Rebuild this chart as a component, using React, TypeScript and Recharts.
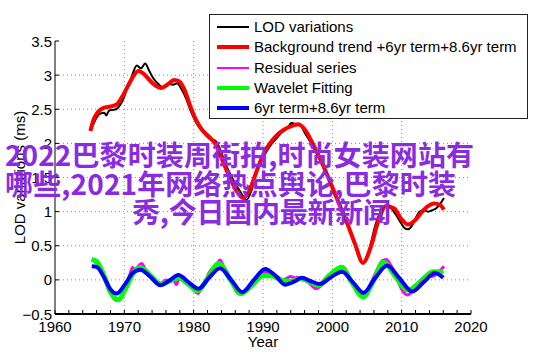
import React from "react";
import { LineChart, Line, XAxis, YAxis, ReferenceLine } from "recharts";

const W = 542;
const H = 356;
const PLOT = { left: 55, top: 41, right: 471, bottom: 314 };
const FONT = "'Liberation Sans', Arial, Helvetica, sans-serif";
const TICK_LEN = 4;

// year ticks: majors every 10, minors every 2
const xTicks = [
  1960, 1962, 1964, 1966, 1968, 1970, 1972, 1974, 1976, 1978, 1980, 1982, 1984, 1986, 1988, 1990,
  1992, 1994, 1996, 1998, 2000, 2002, 2004, 2006, 2008, 2010, 2012, 2014, 2016, 2018, 2020,
];
const xGrid = [1970, 1980, 1990, 2000, 2010];
const yTicks = [-0.5, 0, 0.5, 1, 1.5, 2, 2.5, 3, 3.5];
const yGrid = [0, 0.5, 1, 1.5, 2, 2.5, 3];

// [year, ms]
const lodVariations: [number, number][] = [
  [1965.2, 2.2], [1965.7, 2.32], [1966.0, 2.38], [1966.6, 2.44], [1967.1, 2.45], [1967.4, 2.41],
  [1967.8, 2.48], [1968.3, 2.49], [1968.8, 2.5], [1969.3, 2.55], [1969.9, 2.66], [1970.3, 2.78],
  [1970.8, 2.9], [1971.2, 3.02], [1971.8, 3.14], [1972.4, 3.1], [1973.0, 3.17], [1973.6, 3.06],
  [1974.2, 2.95], [1974.9, 2.87], [1975.6, 2.82], [1976.3, 2.88], [1977.0, 2.86], [1977.6, 2.88],
  [1978.2, 2.8], [1978.9, 2.66], [1979.6, 2.47], [1980.4, 2.3], [1981.4, 2.16], [1982.4, 2.06],
  [1983.1, 2.04], [1983.8, 1.92], [1984.5, 1.72], [1985.8, 1.45], [1986.8, 1.28], [1987.6, 1.17],
  [1988.3, 1.3], [1989.0, 1.55], [1989.7, 1.72], [1990.5, 1.88], [1991.3, 2.0], [1992.0, 2.08],
  [1992.8, 2.17], [1993.5, 2.22], [1994.1, 2.3], [1994.8, 2.28], [1995.5, 2.25], [1996.0, 2.16],
  [1997.0, 1.99], [1998.0, 1.8], [1999.0, 1.58], [2000.0, 1.38], [2001.0, 1.12], [2002.0, 0.88],
  [2003.0, 0.58], [2003.8, 0.35], [2004.4, 0.24], [2005.0, 0.32], [2005.6, 0.55], [2006.2, 0.8],
  [2006.8, 0.97], [2007.4, 1.06], [2007.9, 1.1], [2008.5, 1.05], [2009.2, 0.95], [2009.8, 0.85],
  [2010.4, 0.76], [2010.9, 0.74], [2011.4, 0.78], [2012.0, 0.9], [2012.6, 1.0], [2013.2, 1.02],
  [2013.8, 1.0], [2014.4, 1.02], [2015.0, 1.05], [2015.6, 1.12], [2016.1, 1.2],
];

const backgroundTrend: [number, number][] = [
  [1965.1, 2.18], [1965.5, 2.33], [1966.2, 2.46], [1967.0, 2.52], [1968.0, 2.54], [1968.9, 2.57],
  [1969.9, 2.72], [1971.1, 2.95], [1972.0, 3.06], [1972.9, 3.01], [1973.7, 2.92], [1974.6, 2.84],
  [1975.3, 2.81], [1976.2, 2.86], [1977.2, 2.93], [1977.9, 2.91], [1978.7, 2.78], [1979.5, 2.55],
  [1980.3, 2.35], [1981.2, 2.2], [1982.2, 2.1], [1983.2, 1.98], [1984.2, 1.74], [1985.2, 1.5],
  [1986.2, 1.3], [1987.1, 1.2], [1988.0, 1.3], [1989.1, 1.6], [1990.1, 1.85], [1991.0, 2.0],
  [1992.0, 2.12], [1993.0, 2.2], [1994.0, 2.25], [1995.1, 2.28], [1996.2, 2.18], [1997.3, 1.97],
  [1998.5, 1.72], [1999.7, 1.43], [2000.9, 1.13], [2002.1, 0.84], [2003.3, 0.52], [2004.4, 0.25],
  [2005.6, 0.5], [2006.6, 0.85], [2007.7, 1.08], [2008.9, 1.05], [2009.9, 0.9], [2010.9, 0.81],
  [2011.9, 0.87], [2012.8, 0.98], [2013.8, 1.08], [2014.7, 1.12], [2015.5, 1.1], [2016.1, 1.03],
];

const residualSeries: [number, number][] = [
  [1965.3, 0.3], [1965.8, 0.26], [1966.3, 0.22], [1966.8, 0.12], [1967.3, -0.02], [1967.8, -0.15],
  [1968.3, -0.25], [1968.8, -0.3], [1969.3, -0.28], [1969.8, -0.2], [1970.3, -0.08], [1970.8, 0.08],
  [1971.2, 0.18], [1971.6, 0.14], [1972.0, 0.2], [1972.5, 0.24], [1973.0, 0.16], [1973.5, 0.1],
  [1974.0, 0.02], [1974.5, -0.03], [1975.0, -0.06], [1975.5, -0.04], [1976.0, 0.0], [1976.5, -0.03],
  [1977.0, 0.02], [1977.5, -0.07], [1977.8, 0.0], [1978.3, 0.04], [1978.8, -0.02], [1979.4, -0.08],
  [1980.0, -0.14], [1980.6, -0.2], [1981.2, -0.1], [1981.7, -0.02], [1982.2, 0.1], [1982.8, 0.18],
  [1983.4, 0.24], [1983.8, 0.29], [1984.3, 0.2], [1984.8, 0.12], [1985.4, -0.02], [1985.9, -0.12],
  [1986.4, -0.2], [1986.9, -0.21], [1987.4, -0.18], [1988.0, -0.1], [1988.6, -0.04], [1989.2, 0.04],
  [1989.8, 0.09], [1990.4, 0.11], [1991.0, 0.1], [1991.6, 0.07], [1992.2, 0.04], [1992.8, 0.0],
  [1993.4, 0.02], [1994.0, 0.05], [1994.6, 0.03], [1995.2, 0.04], [1995.8, 0.0], [1996.4, -0.02],
  [1997.0, -0.08], [1997.6, -0.13], [1998.2, -0.1], [1998.8, -0.04], [1999.4, 0.04], [2000.0, 0.05],
  [2000.6, 0.12], [2001.2, 0.2], [2001.8, 0.17], [2002.4, 0.05], [2003.0, -0.08], [2003.6, -0.18],
  [2004.2, -0.23], [2004.8, -0.2], [2005.4, -0.08], [2006.0, 0.05], [2006.6, 0.18], [2007.2, 0.28],
  [2007.8, 0.3], [2008.4, 0.22], [2009.0, 0.1], [2009.6, -0.05], [2010.2, -0.17], [2010.8, -0.22],
  [2011.4, -0.18], [2012.0, -0.08], [2012.6, -0.02], [2013.2, 0.04], [2013.8, 0.06], [2014.4, 0.05],
  [2015.0, 0.08], [2015.6, 0.14], [2016.1, 0.2],
];

const waveletFitting: [number, number][] = [
  [1965.3, 0.3], [1966.0, 0.27], [1967.0, 0.08], [1968.0, -0.18], [1969.1, -0.29], [1970.3, -0.1],
  [1971.3, 0.1], [1972.3, 0.18], [1973.6, 0.08], [1975.2, -0.06], [1976.5, -0.02], [1977.8, 0.03],
  [1979.2, -0.06], [1980.6, -0.16], [1982.0, 0.02], [1983.6, 0.24], [1985.2, 0.02], [1986.8, -0.2],
  [1988.4, -0.08], [1990.0, 0.06], [1991.2, 0.06], [1992.6, 0.0], [1994.0, -0.02], [1995.5, 0.02],
  [1996.8, -0.03], [1998.0, -0.08], [1999.6, 0.07], [2001.3, 0.18], [2002.9, -0.05], [2004.4, -0.25],
  [2006.0, 0.0], [2007.4, 0.26], [2009.1, 0.05], [2010.9, -0.15], [2012.7, -0.03], [2014.5, 0.12],
  [2016.0, 0.12],
];

const sixPlusEightYr: [number, number][] = [
  [1965.3, 0.2], [1966.0, 0.19], [1967.0, 0.05], [1968.0, -0.14], [1968.9, -0.2], [1970.0, -0.08],
  [1971.2, 0.1], [1972.3, 0.15], [1973.8, 0.04], [1975.2, -0.08], [1976.5, -0.01], [1977.8, 0.07],
  [1979.2, -0.03], [1980.7, -0.13], [1982.2, 0.03], [1983.8, 0.17], [1985.4, 0.0], [1987.0, -0.18],
  [1988.7, 0.0], [1990.3, 0.16], [1991.8, 0.06], [1993.2, -0.07], [1994.4, -0.03], [1995.6, 0.03],
  [1996.9, -0.02], [1998.2, -0.06], [1999.8, 0.04], [2001.4, 0.12], [2003.0, -0.04], [2004.5, -0.19],
  [2006.2, 0.03], [2007.9, 0.21], [2009.7, 0.02], [2011.5, -0.17], [2013.2, -0.03], [2014.8, 0.1],
  [2016.0, 0.03],
];

const seriesNames = [
  "LOD variations",
  "Background trend +6yr term+8.6yr term",
  "Residual series",
  "Wavelet Fitting",
  "6yr term+8.6yr term",
];
const seriesColors = ["#000000", "#ff0000", "#ff00ff", "#00ff00", "#0000ff"];
const seriesWidths = [2, 4, 3, 5, 4];
const legendWidths = [2, 4, 2, 4, 4];

const overlayLines = [
  "2022巴黎时装周街拍,时尚女装网站有",
  "哪些,2021年网络热点舆论,巴黎时装",
  "秀,今日国内最新新闻",
];

const toPoints = (s: [number, number][]) => s.map(([x, y]) => ({ x, y }));
const seriesData = [lodVariations, backgroundTrend, residualSeries, waveletFitting, sixPlusEightYr].map(toPoints);

const fmtY = (v: number) => (v < 0 ? "\u2212" + Math.abs(v) : String(v));

const bottomTick = (p: any) => {
  const v = p.payload.value;
  const major = v % 10 === 0;
  return (
    <g>
      <line x1={p.x} x2={p.x} y1={PLOT.bottom} y2={PLOT.bottom - TICK_LEN} stroke="#000" />
      {major && (
        <text x={p.x} y={332} textAnchor="middle" fontSize={15} fill="#000" fontFamily={FONT}>
          {v}
        </text>
      )}
    </g>
  );
};

const topTick = (p: any) => (
  <line x1={p.x} x2={p.x} y1={PLOT.top} y2={PLOT.top + TICK_LEN} stroke="#000" />
);

const leftTick = (p: any) => (
  <g>
    <line x1={PLOT.left} x2={PLOT.left + TICK_LEN} y1={p.y} y2={p.y} stroke="#000" />
    <text x={52} y={p.y + 5.5} textAnchor="end" fontSize={15} fill="#000" fontFamily={FONT}>
      {fmtY(p.payload.value)}
    </text>
  </g>
);

const rightTick = (p: any) => (
  <line x1={PLOT.right} x2={PLOT.right - TICK_LEN} y1={p.y} y2={p.y} stroke="#000" />
);

export default function App() {
  return (
    <div style={{ position: "absolute", left: 0, top: 0, width: W, height: H, background: "#fff", fontFamily: FONT }}>
      <LineChart width={W} height={H} margin={{ top: PLOT.top, right: W - PLOT.right, bottom: 0, left: 0 }}>
        <XAxis
          type="number"
          dataKey="x"
          domain={[1960, 2020]}
          ticks={xTicks}
          interval={0}
          height={H - PLOT.bottom}
          allowDataOverflow
          axisLine={{ stroke: "#000", strokeWidth: 2 }}
          tickLine={false}
          tick={bottomTick}
          label={{
            content: () => (
              <text x={(PLOT.left + PLOT.right) / 2} y={347} textAnchor="middle" fontSize={15} fill="#000" fontFamily={FONT}>
                Year
              </text>
            ),
          }}
        />
        <XAxis
          xAxisId="top"
          orientation="top"
          type="number"
          domain={[1960, 2020]}
          ticks={xTicks}
          interval={0}
          height={0}
          axisLine={{ stroke: "#000", strokeWidth: 1 }}
          tickLine={false}
          tick={topTick}
        />
        <YAxis
          type="number"
          domain={[-0.5, 3.5]}
          ticks={yTicks}
          interval={0}
          width={PLOT.left}
          allowDataOverflow
          axisLine={{ stroke: "#000", strokeWidth: 1 }}
          tickLine={false}
          tick={leftTick}
          label={{
            content: () => (
              <text
                transform={`translate(25,${(PLOT.top + PLOT.bottom) / 2}) rotate(-90)`}
                textAnchor="middle"
                fontSize={15}
                fill="#000"
                fontFamily={FONT}
              >
                LOD variations (ms)
              </text>
            ),
          }}
        />
        <YAxis
          yAxisId="right"
          orientation="right"
          type="number"
          domain={[-0.5, 3.5]}
          ticks={yTicks}
          interval={0}
          width={0}
          axisLine={{ stroke: "#000", strokeWidth: 2 }}
          tickLine={false}
          tick={rightTick}
        />
        {xGrid.map((v) => (
          <ReferenceLine key={"gx" + v} x={v} stroke="#8c8c8c" strokeDasharray="1 3" />
        ))}
        {yGrid.map((v) => (
          <ReferenceLine key={"gy" + v} y={v} stroke="#8c8c8c" strokeDasharray="1 3" />
        ))}
        {seriesData.map((d, i) => (
          <Line
            key={seriesNames[i]}
            data={d}
            dataKey="y"
            name={seriesNames[i]}
            type="monotone"
            stroke={seriesColors[i]}
            strokeWidth={seriesWidths[i]}
            strokeLinejoin="round"
            dot={false}
            activeDot={false}
            isAnimationActive={false}
          />
        ))}
      </LineChart>

      <div
        style={{
          position: "absolute",
          left: 209,
          top: 14,
          width: 319,
          height: 105,
          boxSizing: "border-box",
          border: "1px solid #222",
          background: "#fff",
        }}
      >
        {seriesNames.map((name, i) => (
          <div
            key={name}
            style={{ position: "absolute", left: 7, top: 2 + i * 20.3, height: 20, display: "flex", alignItems: "center" }}
          >
            <div style={{ width: 32, height: legendWidths[i], background: seriesColors[i] }} />
            <span style={{ marginLeft: 5, fontSize: 15, lineHeight: "20px", color: "#000", whiteSpace: "nowrap" }}>{name}</span>
          </div>
        ))}
      </div>

      <svg width={W} height={H} style={{ position: "absolute", left: 0, top: 0, pointerEvents: "none" }}>
        {overlayLines.map((t, i) => (
          <text
            key={t}
            x={[5, 5, 132][i]}
            y={[166, 195, 223][i]}
            textLength={[469, 451, 259][i]}
            fontSize={28}
            fontWeight={700}
            fill="#8a2be2"
            fontFamily="'Noto Sans CJK SC', 'Noto Sans CJK JP', sans-serif"
          >
            {t}
          </text>
        ))}
      </svg>
    </div>
  );
}
